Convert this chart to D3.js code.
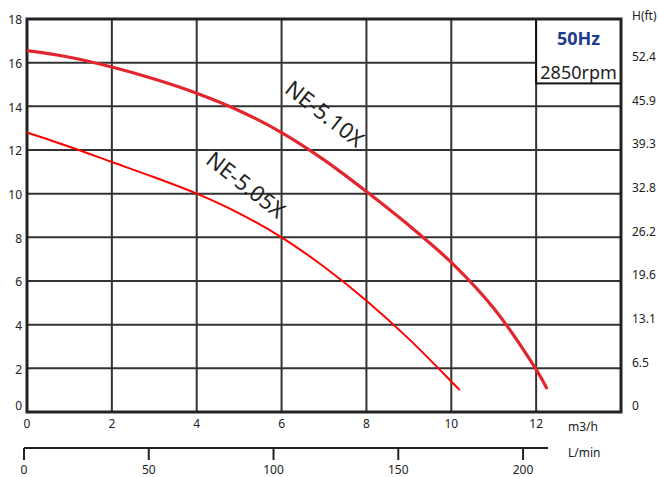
<!DOCTYPE html>
<html>
<head>
<meta charset="utf-8">
<script src="https://cdn.jsdelivr.net/npm/d3@7"></script>
<style>
  body { margin: 0; background: #fff; }
  text { font-family: "Noto Sans", "Open Sans", sans-serif; fill: #222; }
</style>
</head>
<body>
<div id="chart"></div>
<script>
// flow in m3/h, head in m
var flowTicks = [0, 2, 4, 6, 8, 10, 12];
var headTicks = [0, 2, 4, 6, 8, 10, 12, 14, 16, 18];
var feetTicks = ["0", "6.5", "13.1", "19.6", "26.2", "32.8", "39.3", "45.9", "52.4"];
var lminTicks = [0, 50, 100, 150, 200];

var ne510Q = [0, 1, 2, 3, 4, 5, 6, 7, 8, 9, 10, 11, 12, 12.26];
var ne510H = [16.55, 16.25, 15.8, 15.25, 14.6, 13.8, 12.8, 11.55, 10.1, 8.55, 6.85, 4.75, 1.95, 1.05];
var ne505Q = [0, 1, 2, 3, 4, 5, 6, 7, 8, 9, 10, 10.2];
var ne505H = [12.8, 12.15, 11.45, 10.75, 10.0, 9.1, 8.0, 6.65, 5.1, 3.35, 1.4, 1.0];

var W = 658, H = 477;
var svg = d3.select("#chart").append("svg")
	.attr("width", W)
	.attr("height", H);

var x = d3.scaleLinear().domain([0, 14]).range([27, 621]);
var y = d3.scaleLinear().domain([0, 18]).range([412, 19]);
var xl = d3.scaleLinear().domain([0, 210]).range([24, 548]);

//grid
flowTicks.filter(function (d) { return d > 0; }).forEach(function (d) {
	svg.append("line")
		.attr("x1", x(d)).attr("x2", x(d))
		.attr("y1", y(18)).attr("y2", y(0))
		.style("stroke", "#333").style("stroke-width", 2);
});
headTicks.filter(function (d) { return d > 0 && d < 18; }).forEach(function (d) {
	svg.append("line")
		.attr("x1", x(0)).attr("x2", x(14))
		.attr("y1", y(d)).attr("y2", y(d))
		.style("stroke", "#333").style("stroke-width", 2);
});

//frequency box
svg.append("rect")
	.attr("x", x(12)).attr("y", y(18))
	.attr("width", x(14) - x(12)).attr("height", y(15.05) - y(18))
	.style("fill", "#fff").style("stroke", "#111").style("stroke-width", 2);
svg.append("text")
	.attr("x", (x(12) + x(14)) / 2).attr("y", 45)
	.attr("text-anchor", "middle")
	.style("font-size", "18px").style("font-weight", "bold")
	.style("fill", "#1f3a8c")
	.text("50Hz");
svg.append("text")
	.attr("x", (x(12) + x(14)) / 2).attr("y", 79)
	.attr("text-anchor", "middle")
	.style("font-size", "18px")
	.text("2850rpm");

//frame
svg.append("rect")
	.attr("x", x(0)).attr("y", y(18))
	.attr("width", x(14) - x(0)).attr("height", y(0) - y(18))
	.style("fill", "none").style("stroke", "#222").style("stroke-width", 3);

//curves
var line = d3.line()
	.x(function (d) { return x(d[0]); })
	.y(function (d) { return y(d[1]); })
	.curve(d3.curveCatmullRom.alpha(0.5));

svg.append("path")
	.attr("d", line(d3.zip(ne510Q, ne510H)))
	.style("fill", "none").style("stroke", "#e3262e").style("stroke-width", 3.2);
svg.append("path")
	.attr("d", line(d3.zip(ne505Q, ne505H)))
	.style("fill", "none").style("stroke", "#f00").style("stroke-width", 2);

svg.append("text")
	.attr("transform", "translate(320,120) rotate(38)")
	.attr("text-anchor", "middle")
	.style("font-size", "22px")
	.text("NE-5.10X");
svg.append("text")
	.attr("transform", "translate(241,191) rotate(38)")
	.attr("text-anchor", "middle")
	.style("font-size", "22px")
	.text("NE-5.05X");

//left labels
headTicks.forEach(function (d) {
	svg.append("text")
		.attr("x", 22)
		.attr("y", d == 0 ? y(d) - 6 : y(d) + 1)
		.attr("dy", "0.35em")
		.attr("text-anchor", "end")
		.style("font-size", "12px")
		.text(d);
});

//right labels
feetTicks.forEach(function (t, i) {
	svg.append("text")
		.attr("x", 632)
		.attr("y", y(i * 2) - 6)
		.attr("dy", "0.35em")
		.style("font-size", "12px")
		.text(t);
});
svg.append("text")
	.attr("x", 632).attr("y", 16).attr("dy", "0.35em")
	.style("font-size", "12px")
	.text("H(ft)");

//m3/h labels
flowTicks.forEach(function (d) {
	svg.append("text")
		.attr("x", x(d)).attr("y", 424)
		.attr("dy", "0.35em")
		.attr("text-anchor", "middle")
		.style("font-size", "12px")
		.text(d);
});
svg.append("text")
	.attr("x", 568).attr("y", 427).attr("dy", "0.35em")
	.style("font-size", "12px")
	.text("m3/h");

//L/min axis
svg.append("line")
	.attr("x1", xl(0)).attr("x2", xl(210))
	.attr("y1", 448).attr("y2", 448)
	.style("stroke", "#222").style("stroke-width", 2);
lminTicks.forEach(function (d) {
	svg.append("line")
		.attr("x1", xl(d)).attr("x2", xl(d))
		.attr("y1", 448).attr("y2", 460)
		.style("stroke", "#222").style("stroke-width", 2);
	svg.append("text")
		.attr("x", xl(d)).attr("y", 470)
		.attr("dy", "0.35em")
		.attr("text-anchor", "middle")
		.style("font-size", "12px")
		.text(d);
});
svg.append("text")
	.attr("x", 568).attr("y", 453).attr("dy", "0.35em")
	.style("font-size", "12px")
	.text("L/min");
</script>
</body>
</html>
